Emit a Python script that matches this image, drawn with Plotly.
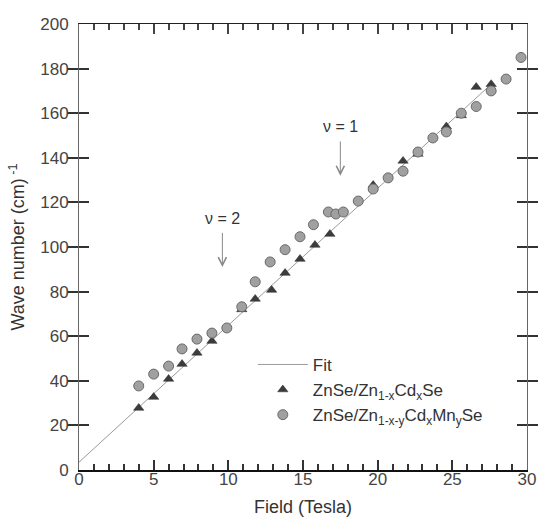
import plotly.graph_objects as go

# ZnSe/Zn1-xCdxSe (triangles)
tri_field = [4.0, 5.0, 6.0, 6.9, 7.9, 8.9, 10.9, 11.8, 12.9, 13.8, 14.8, 15.8, 16.8,
             19.7, 21.7, 22.7, 24.6, 25.6, 26.6, 27.6]
tri_wave = [27.8, 32.7, 40.8, 47.5, 52.5, 57.8, 72.0, 76.7, 80.7, 88.3, 94.6, 100.9, 105.8,
            127.8, 138.6, 141.7, 154.0, 159.0, 171.7, 173.0]

# ZnSe/Zn1-x-yCdxMnySe (circles)
cir_field = [4.0, 5.0, 6.0, 6.9, 7.9, 8.9, 9.9, 10.9, 11.8, 12.8, 13.8, 14.8, 15.7, 16.7,
             17.2, 17.7, 18.7, 19.7, 20.7, 21.7, 22.7, 23.7, 24.6, 25.6, 26.6, 27.6, 28.6, 29.6]
cir_wave = [37.7, 43.0, 46.6, 54.3, 58.7, 61.4, 63.7, 73.2, 84.4, 93.3, 98.8, 104.6, 110.0, 115.7,
            114.8, 115.7, 120.6, 126.0, 131.0, 134.0, 142.6, 148.9, 151.6, 160.0, 163.0, 170.0, 175.3, 185.0]

# Fit line end points
fit_field = [0.0, 27.6]
fit_wave = [3.5, 173.0]

# Filling-factor arrows: (label, field, wave at tail, wave at head)
arrow_labels = ["ν = 2", "ν = 1"]
arrow_field = [9.6, 17.5]
arrow_tail = [107.0, 148.0]
arrow_head = [91.0, 132.0]
label_wave = [113.0, 154.0]

x_ticks = [0, 5, 10, 15, 20, 25, 30]
y_ticks = list(range(0, 201, 20))

font = "Liberation Sans, Arial, sans-serif"
fig = go.Figure()
fig.add_trace(go.Scatter(x=fit_field, y=fit_wave, mode="lines", name="Fit",
                         line=dict(color="#9a9a9a", width=1)))
fig.add_trace(go.Scatter(x=tri_field, y=tri_wave, mode="markers",
                         name="ZnSe/Zn<sub>1-x</sub>Cd<sub>x</sub>Se",
                         marker=dict(symbol="triangle-up", size=9, color="#3c3c3c",
                                     line=dict(color="#2a2a2a", width=0.5))))
fig.add_trace(go.Scatter(x=cir_field, y=cir_wave, mode="markers",
                         name="ZnSe/Zn<sub>1-x-y</sub>Cd<sub>x</sub>Mn<sub>y</sub>Se",
                         marker=dict(symbol="circle", size=10, color="#a0a0a0",
                                     line=dict(color="#6a6a6a", width=1))))
# transparent copy bound to the top tick frame
fig.add_trace(go.Scatter(x=fit_field, y=fit_wave, xaxis="x2", showlegend=False,
                         hoverinfo="skip", mode="lines", line=dict(width=0), opacity=0))

for lab, fx, yt, yh, yl in zip(arrow_labels, arrow_field, arrow_tail, arrow_head, label_wave):
    fig.add_annotation(x=fx, y=yh, ax=fx, ay=yt, xref="x", yref="y", axref="x", ayref="y",
                       text="", showarrow=True, arrowhead=5, arrowsize=1.6, arrowwidth=1,
                       arrowcolor="#888888")
    fig.add_annotation(x=fx, y=yl, xref="x", yref="y", text=lab, showarrow=False,
                       font=dict(family=font, size=16, color="#333333"))

fig.update_layout(
    xaxis=dict(range=[0, 30], tickvals=x_ticks, ticks="inside", ticklen=10, tickwidth=1.5,
               tickcolor="#333333",
               minor=dict(dtick=1, ticks="inside", ticklen=6, tickwidth=1.5, tickcolor="#333333"),
               showgrid=False, zeroline=False,
               showline=True, linecolor="#111111", linewidth=2,
               tickfont=dict(family=font, size=17, color="#444444"),
               ticklabelposition="outside", ticklabelstandoff=-7,
               title=dict(text="Field (Tesla)", font=dict(family=font, size=18, color="#333333"),
                          standoff=12)),
    xaxis2=dict(range=[0, 30], tickvals=x_ticks, ticks="inside", ticklen=10, tickwidth=1.5,
                tickcolor="#444444", overlaying="x", side="top", anchor="y", showticklabels=False,
                minor=dict(dtick=1, ticks="inside", ticklen=6, tickwidth=1.5, tickcolor="#444444"),
                showgrid=False, zeroline=False,
                showline=True, linecolor="#222222", linewidth=1),
    yaxis=dict(range=[0, 200], tickvals=y_ticks, ticks="inside", ticklen=10, tickwidth=1.5,
               tickcolor="#333333", mirror="allticks",
               showgrid=False, zeroline=False,
               showline=True, linecolor="#666666", linewidth=1,
               tickfont=dict(family=font, size=17, color="#444444"), ticklabelstandoff=6,
               title=dict(text="Wave number (cm)<sup> -1</sup>",
                          font=dict(family=font, size=18, color="#333333"), standoff=10)),
)

fig.update_layout(width=540, height=527, margin=dict(l=79, r=13, t=24, b=57, autoexpand=False),
                  plot_bgcolor="white", paper_bgcolor="white", showlegend=True,
                  legend=dict(x=0.388, y=0.276, xanchor="left", yanchor="top",
                              bgcolor="rgba(0,0,0,0)", tracegroupgap=0,
                              font=dict(family=font, size=17, color="#333333"),
                              itemwidth=50))
fig.write_html("out.html")
